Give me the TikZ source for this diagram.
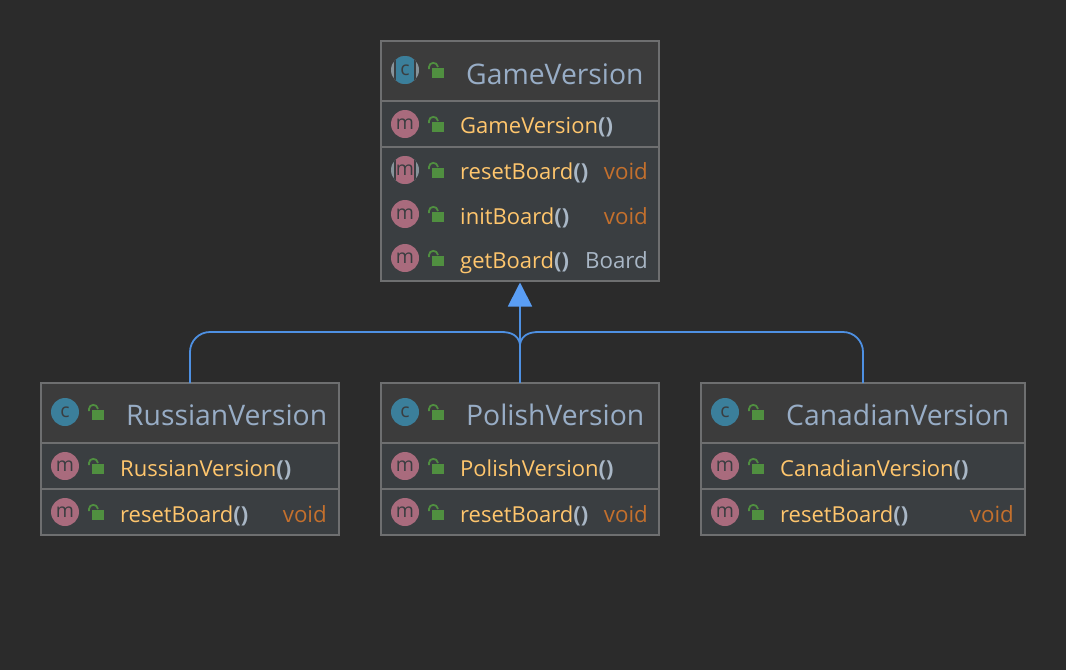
\documentclass[tikz,border=0pt]{standalone}
\usepackage{fontspec}
\setmainfont{Open Sans}
\usepackage{xcolor}
\usetikzlibrary{arrows.meta}

\definecolor{canvasbg}{HTML}{2B2B2B}
\definecolor{headbg}{HTML}{3C3C3C}
\definecolor{bodybg}{HTML}{3A3E41}
\definecolor{boxline}{HTML}{6E6F70}
\definecolor{titletext}{HTML}{98ADC6}
\definecolor{methodtext}{HTML}{FFC66D}
\definecolor{bracetext}{HTML}{A9B7C6}
\definecolor{voidtext}{HTML}{C4702D}
\definecolor{classicon}{HTML}{3B7F9B}
\definecolor{methodicon}{HTML}{A96B7D}
\definecolor{iconmark}{HTML}{3A3D40}
\definecolor{iconrim}{HTML}{87939A}
\definecolor{lockgreen}{HTML}{508F40}
\definecolor{edgeblue}{HTML}{4E90E2}
\definecolor{tipblue}{HTML}{5A9EF5}

\tikzset{
    classbox/.style={draw=boxline, line width=1.4pt, fill=bodybg, inner sep=0pt, outer sep=0pt, anchor=north west},
    titlelabel/.style={anchor=base west, inner sep=0pt, text=titletext, font=\fontsize{28.3}{32}\selectfont},
    methodlabel/.style={anchor=base west, inner sep=0pt, text=methodtext, font=\fontsize{22}{26}\selectfont},
    typelabel/.style={anchor=base east, inner sep=0pt, text=voidtext, font=\fontsize{22.3}{26}\selectfont},
    iconlabel/.style={inner sep=0pt, text=iconmark, font=\fontsize{19.5}{24}\selectfont},
    edgeline/.style={draw=edgeblue, line width=1.8pt},
}

% round marker, then the open padlock beside it
\newcommand{\lockat}[2]{%
    \fill[lockgreen] (#1-4,#2-2) rectangle (#1+8,#2+8);
    \draw[lockgreen, line width=1.8pt] (#1-7,#2-1) -- (#1-7,#2-3) .. controls (#1-7,#2-8) and (#1+1,#2-9) .. (#1+2,#2-3);
}
\newcommand{\roundicon}[4]{%
    \fill[#3] (#1,#2) circle[radius=14];
    \node[iconlabel, anchor=base] (#4) at (#1,#2+5) {#4};
}
\newcommand{\stripeicon}[4]{%
    \fill[iconrim] (#1,#2) circle[radius=14];
    \begin{scope}
        \clip (#1,#2) circle[radius=14];
        \fill[bodybg] (#1-11,#2-14) rectangle (#1+11,#2+14);
        \fill[#3] (#1-9,#2-14) rectangle (#1+9,#2+14);
    \end{scope}
    \node[iconlabel, anchor=base] (#4) at (#1,#2+5) {#4};
}
\newcommand{\methodname}[1]{#1{\color{bracetext}\bfseries()}}

\begin{document}
\begin{tikzpicture}[x=1pt,y=-1pt]
    \useasboundingbox[fill=canvasbg] (0,0) rectangle (1066,670);

    % class boxes
    \node[classbox, minimum width=278pt, minimum height=240pt] (game) at (381,41) {};
    \node[classbox, minimum width=298pt, minimum height=152pt] (russian) at (41,383) {};
    \node[classbox, minimum width=278pt, minimum height=152pt] (polish) at (381,383) {};
    \node[classbox, minimum width=324pt, minimum height=152pt] (canadian) at (701,383) {};

    % header bands and separators
    \foreach \xa/\xb/\ya/\yb/\ysep in {381/659/41/101/147, 41/339/383/443/489, 381/659/383/443/489, 701/1025/383/443/489} {
        \fill[headbg] (\xa+1,\ya+1) rectangle (\xb-1,\yb);
        \draw[boxline, line width=1.4pt] (\xa,\yb) -- (\xb,\yb);
        \draw[boxline, line width=1.4pt] (\xa,\ysep) -- (\xb,\ysep);
    }

    % GameVersion
    \stripeicon{405}{70}{classicon}{c}
    \lockat{436}{70}
    \node[titlelabel] (gametitle) at (466,84) {GameVersion};
    \roundicon{405}{124}{methodicon}{m}
    \lockat{436}{124}
    \node[methodlabel] (gamector) at (460,133) {\methodname{GameVersion}};
    \stripeicon{405}{170}{methodicon}{m}
    \lockat{436}{170}
    \node[methodlabel] (gamereset) at (460,179) {\methodname{resetBoard}};
    \node[typelabel] (gamevoida) at (648,179) {void};
    \roundicon{405}{214}{methodicon}{m}
    \lockat{436}{214}
    \node[methodlabel] (gameinit) at (460,224) {\methodname{initBoard}};
    \node[typelabel] (gamevoidb) at (648,224) {void};
    \roundicon{405}{258}{methodicon}{m}
    \lockat{436}{258}
    \node[methodlabel] (gameget) at (460,268) {\methodname{getBoard}};
    \node[typelabel, text=bracetext] (gameboard) at (648,268) {Board};

    % subclasses
    \foreach \bx/\tname/\vx/\id in {41/RussianVersion/327/r, 381/PolishVersion/648/p, 701/CanadianVersion/1014/c} {
        \roundicon{\bx+24}{412}{classicon}{c}
        \lockat{\bx+55}{412}
        \node[titlelabel] (\id title) at (\bx+85,425) {\tname};
        \roundicon{\bx+24}{466}{methodicon}{m}
        \lockat{\bx+55}{466}
        \node[methodlabel] (\id ctor) at (\bx+79,476) {\methodname{\tname}};
        \roundicon{\bx+24}{512}{methodicon}{m}
        \lockat{\bx+55}{512}
        \node[methodlabel] (\id reset) at (\bx+79,522) {\methodname{resetBoard}};
        \node[typelabel] (\id void) at (\vx,522) {void};
    }

    % inheritance connectors
    \coordinate (merge) at ([yshift=-38pt]game.south);
    \coordinate (bus) at (merge |- 0,332);
    \draw[edgeline, rounded corners=20pt] (russian.north) -- (russian.north |- bus) -- ([xshift=-18pt]bus);
    \draw[edgeline] ([xshift=-19pt]bus) .. controls ([xshift=-9pt]bus) and ([xshift=-2pt,yshift=-3pt]bus) .. ([yshift=-12pt]bus);
    \draw[edgeline, rounded corners=20pt] (canadian.north) -- (canadian.north |- bus) -- ([xshift=18pt]bus);
    \draw[edgeline] ([xshift=19pt]bus) .. controls ([xshift=9pt]bus) and ([xshift=2pt,yshift=-3pt]bus) .. ([yshift=-12pt]bus);
    \draw[edgeline, -{Triangle[length=24pt, width=24pt, color=tipblue]}, shorten >=1.5pt] (polish.north) -- (game.south);
\end{tikzpicture}
\end{document}
